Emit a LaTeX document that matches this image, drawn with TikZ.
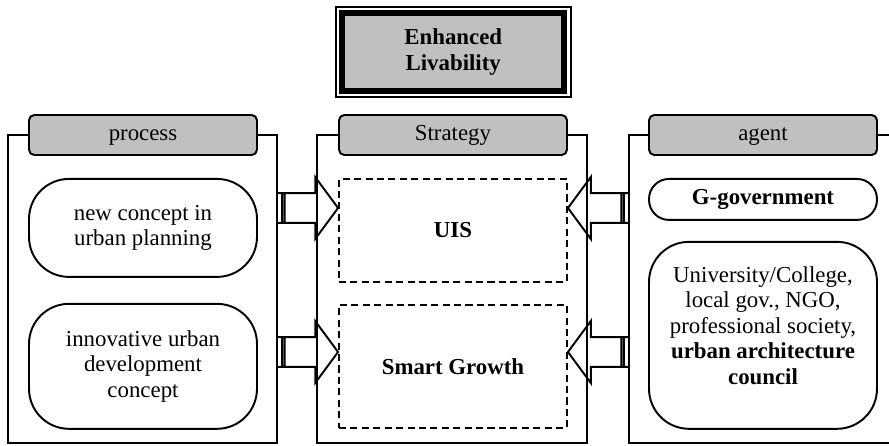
\documentclass[tikz,border=0pt]{standalone}
\usepackage{fontspec}
\setmainfont{Liberation Serif}
\usetikzlibrary{positioning,calc}
\definecolor{hdrgray}{RGB}{192,192,192}

\begin{document}
\begin{tikzpicture}[
        x=0.02cm, y=-0.02cm,
        every node/.style={align=center, font=\fontsize{13}{14.5}\selectfont},
        every path/.style={line width=1.1pt},
        panel/.style={draw, minimum height=6.16cm},
        header/.style={draw, rounded corners=3pt, fill=hdrgray, minimum width=4.56cm, minimum height=0.8cm,
            text height=8.5pt, text depth=2.5pt},
        item/.style={draw, minimum width=4.56cm},
        dashbox/.style={draw, dash pattern=on 4pt off 2.5pt, minimum width=4.56cm, font=\fontsize{13}{14.5}\selectfont\bfseries},
        feed/.style={to path={let \p1=(\tikztostart), \p2=(\tikztotarget),
            \p3=($(\tikztotarget)!13pt!(\tikztostart)$),
            \p4=($(\tikztostart)!2.4pt!(\tikztotarget)$),
            \p5=($(\tikztostart)!3.8pt!(\tikztotarget)$) in
            (\x1,\y1+8.5pt) -- (\x3,\y1+8.5pt) -- (\x3,\y1+17.6pt) -- (\x2,\y1)
            -- (\x3,\y1-17.6pt) -- (\x3,\y1-8.5pt) -- (\x1,\y1-8.5pt)
            (\x4,\y1+8.5pt) -- (\x4,\y1-8.5pt) (\x5,\y1+8.5pt) -- (\x5,\y1-8.5pt)}}
    ]
    \useasboundingbox (0,0) rectangle (889,446);

    % Goal
    \node (goal) [draw, fill=hdrgray, line width=0.12cm, minimum width=4.45cm, minimum height=1.56cm,
        font=\fontsize{13}{15.3}\selectfont\bfseries] at (453.25,52) {Enhanced\\Livability};
    \draw[line width=0.04cm] ([xshift=-0.07cm,yshift=0.07cm]goal.north west) rectangle ([xshift=0.07cm,yshift=-0.07cm]goal.south east);

    % Panels
    \node (procpanel) [panel, minimum width=5.38cm] at (142.5,289) {};
    \node (stratpanel) [panel, minimum width=5.4cm] at (452,289) {};
    \node (agentpanel) [panel, minimum width=5.36cm] at (763,289) {};

    \node (prochead) [header] at (143,135) {process};
    \node (strathead) [header] at (453,135) {Strategy};
    \node (agenthead) [header] at (763,135) {agent};

    % Nodes
    \node (newconcept) [item, below=0.44cm of prochead, minimum height=1.96cm, rounded corners=0.8cm] {new concept in\\urban planning};
    \node (innovative) [item, below=0.5cm of newconcept, minimum height=2.5cm, rounded corners=0.8cm] {innovative urban\\development\\concept};

    \node (uis) [dashbox, below=0.44cm of strathead, minimum height=2.06cm] {UIS};
    \node (smart) [dashbox, below=0.42cm of uis, minimum height=2.46cm] {Smart Growth};

    \node (gov) [item, below=0.44cm of agenthead, minimum height=0.82cm, rounded corners=0.4cm,
        font=\fontsize{13}{14.5}\selectfont\bfseries] {G-government};
    \node (partners) [item, below=0.4cm of gov, minimum height=3.74cm, rounded corners=0.8cm]
        {University/College,\\local gov., NGO,\\professional society,\\\textbf{urban architecture}\\\textbf{council}\\[-3pt]\mbox{}};

    % Edges
    \draw[feed] (procpanel.east |- 0,208) to (uis.west |- 0,208);
    \draw[feed] (procpanel.east |- 0,352) to (smart.west |- 0,352);
    \draw[feed] (agentpanel.west |- 0,208) to (uis.east |- 0,208);
    \draw[feed] (agentpanel.west |- 0,352) to (smart.east |- 0,352);

\end{tikzpicture}
\end{document}
